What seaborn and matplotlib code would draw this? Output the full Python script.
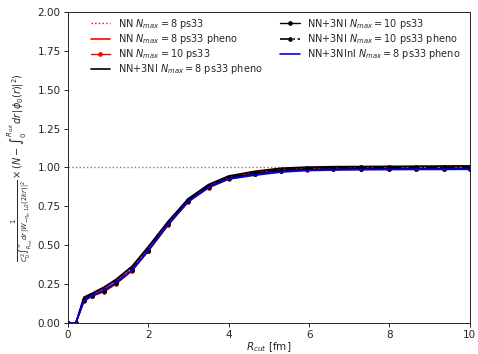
import matplotlib
matplotlib.use("Agg")
import matplotlib.pyplot as plt
import seaborn as sns
import pandas as pd

sns.set_style("ticks")
plt.rcParams['font.family'] = ['DejaVu Sans']
plt.rcParams['axes.linewidth'] = 0.7

r_cut = [0, 0.2, 0.4, 0.6, 0.9, 1.2, 1.6, 2.0, 2.5, 3.0, 3.5, 4.0, 4.65, 5.3, 5.95, 6.6, 7.3, 8.0, 8.65, 9.35, 10.0]

nn8 = [0, 0, 0.155, 0.18, 0.22, 0.27, 0.355, 0.48, 0.645, 0.79, 0.88, 0.935, 0.965, 0.985, 0.993, 0.996, 0.998, 0.999, 1.0, 1.0, 1.0]
nn8_pheno = [0, 0, 0.16, 0.185, 0.225, 0.275, 0.36, 0.485, 0.65, 0.795, 0.885, 0.94, 0.97, 0.99, 0.997, 1.0, 1.002, 1.003, 1.004, 1.005, 1.005]
nn10 = [0, 0, 0.14, 0.17, 0.20, 0.25, 0.335, 0.46, 0.63, 0.78, 0.87, 0.925, 0.955, 0.975, 0.985, 0.988, 0.99, 0.99, 0.99, 0.99, 0.99]
nn3n8_pheno = [0, 0, 0.165, 0.19, 0.23, 0.28, 0.365, 0.49, 0.655, 0.80, 0.89, 0.945, 0.975, 0.995, 1.002, 1.005, 1.006, 1.007, 1.008, 1.009, 1.01]
nn3n10 = [0, 0, 0.145, 0.175, 0.205, 0.255, 0.34, 0.465, 0.635, 0.785, 0.875, 0.93, 0.96, 0.98, 0.988, 0.99, 0.992, 0.992, 0.993, 0.993, 0.993]
nn3n10_pheno = [0, 0, 0.15, 0.18, 0.21, 0.26, 0.345, 0.47, 0.64, 0.79, 0.88, 0.935, 0.965, 0.985, 0.995, 0.998, 1.0, 1.0, 1.001, 1.002, 1.002]
nn3nnl8_pheno = [0, 0, 0.14, 0.175, 0.21, 0.26, 0.34, 0.465, 0.635, 0.78, 0.87, 0.925, 0.95, 0.97, 0.98, 0.983, 0.985, 0.986, 0.987, 0.987, 0.988]

labels = [
    r"NN $N_{max}=8$ ps33",
    r"NN $N_{max}=8$ ps33 pheno",
    r"NN $N_{max}=10$ ps33",
    r"NN+3NI $N_{max}=8$ ps33 pheno",
    r"NN+3NI $N_{max}=10$ ps33",
    r"NN+3NI $N_{max}=10$ ps33 pheno",
    r"NN+3NInl $N_{max}=8$ ps33 pheno",
]
series = [nn8, nn8_pheno, nn10, nn3n8_pheno, nn3n10, nn3n10_pheno, nn3nnl8_pheno]
styles = [
    dict(color="red", linestyle=":", linewidth=1.0),
    dict(color="red", linestyle="-", linewidth=1.2),
    dict(color="red", linestyle="-", linewidth=1.0, marker="o", markersize=2.6),
    dict(color="black", linestyle="-", linewidth=1.2),
    dict(color="black", linestyle="-", linewidth=1.0, marker="o", markersize=2.6),
    dict(color="black", linestyle="-.", linewidth=1.2, marker="o", markersize=2.6),
    dict(color="blue", linestyle="-", linewidth=1.2),
]

fig, ax = plt.subplots(figsize=(4.78, 3.54), dpi=100)
ax.axhline(1.0, color="gray", linestyle=":", linewidth=1.0)
for lab, ys, st in zip(labels, series, styles):
    df = pd.DataFrame({"x": r_cut, "y": ys})
    sns.lineplot(data=df, x="x", y="y", ax=ax, estimator=None, sort=False,
                 label=lab, markeredgecolor=st["color"], **st)

ax.set_xlim(0, 10)
ax.set_ylim(0, 2.0)
ax.tick_params(labelsize=7.5, length=2.6, width=0.7, pad=2.6)
ax.set_xlabel(r"$R_{cut}$ [fm]", fontsize=7.5)
ax.xaxis.set_label_coords(0.5, -0.055)
ax.set_ylabel(r"$\frac{1}{C_0^2\int_{R_{cut}}^{\infty}dr\,|W_{-\eta_k,1/2}(2kr)|^2}\times(N-\int_0^{R_{cut}}dr\,|\phi_0(r)|^2)$",
              fontsize=7, labelpad=2)
ax.legend(ncol=2, loc="upper left", frameon=False, fontsize=7.0,
          labelspacing=0.12, columnspacing=1.8, borderaxespad=0.5,
          bbox_to_anchor=(0.035, 1.013))
fig.subplots_adjust(left=0.142, right=0.983, top=0.966, bottom=0.088)
fig.savefig("out.png", dpi=100)
